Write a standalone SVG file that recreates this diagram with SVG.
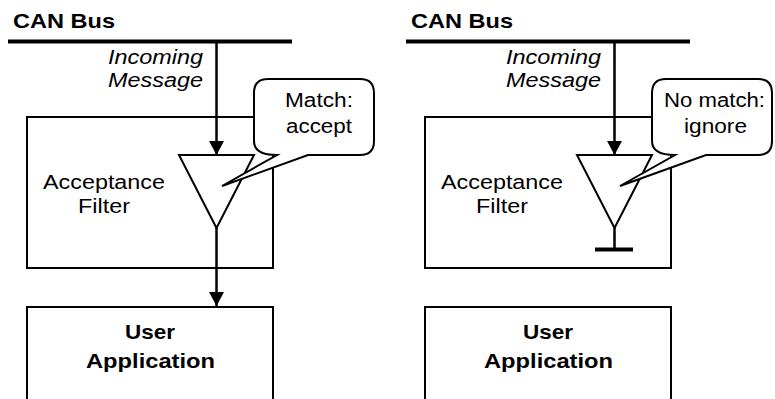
<svg xmlns="http://www.w3.org/2000/svg" width="775" height="399" viewBox="0 0 775 399">
<style>
  .box{fill:#fff;stroke:#000;stroke-width:2}
  .tri{fill:#fff;stroke:#000;stroke-width:2;stroke-linejoin:miter}
  .bus{stroke:#000;stroke-width:4;fill:none}
  .wire{stroke:#000;stroke-width:2.5;fill:none}
  .callout{fill:#fff;stroke:#000;stroke-width:2;stroke-linejoin:miter}
  text{font-family:"Liberation Sans",Arial,sans-serif;fill:#000}
  .title{font-size:21px;font-weight:bold}
  .it{font-size:20px;font-style:italic}
  .reg{font-size:20px}
  .bold{font-size:21px;font-weight:bold}
</style>
<defs>
  <marker id="arrow" markerUnits="userSpaceOnUse" markerWidth="16" markerHeight="16" refX="14" refY="7.5" orient="auto">
    <path d="M0,0 L14,7.5 L0,15 z" fill="#000"/>
  </marker>
</defs>

<!-- LEFT PANEL -->
<g id="left-canbus-label"><text class="title" x="13" y="28" textLength="102" lengthAdjust="spacingAndGlyphs">CAN Bus</text></g>
<g id="left-incoming-label">
  <text class="it" x="108" y="64" textLength="95" lengthAdjust="spacingAndGlyphs">Incoming</text>
  <text class="it" x="108" y="87" textLength="95" lengthAdjust="spacingAndGlyphs">Message</text>
</g>
<g id="left-filter-box">
  <rect class="box" x="27" y="117" width="246" height="151"/>
  <text class="reg" x="43" y="189" textLength="122" lengthAdjust="spacingAndGlyphs">Acceptance</text>
  <text class="reg" x="78" y="213" textLength="52" lengthAdjust="spacingAndGlyphs">Filter</text>
</g>
<g id="left-user-app">
  <rect class="box" x="27" y="307" width="246" height="120"/>
  <text class="bold" x="125" y="339" textLength="50" lengthAdjust="spacingAndGlyphs">User</text>
  <text class="bold" x="86" y="367.5" textLength="129" lengthAdjust="spacingAndGlyphs">Application</text>
</g>

<!-- RIGHT PANEL -->
<g id="right-canbus-label"><text class="title" x="411" y="28" textLength="102" lengthAdjust="spacingAndGlyphs">CAN Bus</text></g>
<g id="right-incoming-label">
  <text class="it" x="506" y="64" textLength="95" lengthAdjust="spacingAndGlyphs">Incoming</text>
  <text class="it" x="506" y="87" textLength="95" lengthAdjust="spacingAndGlyphs">Message</text>
</g>
<g id="right-filter-box">
  <rect class="box" x="425" y="117" width="246" height="151"/>
  <text class="reg" x="441" y="189" textLength="122" lengthAdjust="spacingAndGlyphs">Acceptance</text>
  <text class="reg" x="476" y="213" textLength="52" lengthAdjust="spacingAndGlyphs">Filter</text>
</g>
<g id="right-user-app">
  <rect class="box" x="425" y="307" width="246" height="120"/>
  <text class="bold" x="523" y="339" textLength="50" lengthAdjust="spacingAndGlyphs">User</text>
  <text class="bold" x="484" y="367.5" textLength="129" lengthAdjust="spacingAndGlyphs">Application</text>
</g>

<!-- CONNECTORS -->
<g id="connectors">
  <line class="bus" x1="8" y1="41.5" x2="292" y2="41.5"/>
  <line class="wire" x1="216.5" y1="42" x2="216.5" y2="155" marker-end="url(#arrow)"/>
  <line class="wire" x1="216.5" y1="228" x2="216.5" y2="306" marker-end="url(#arrow)"/>
  <line class="bus" x1="406" y1="41.5" x2="690" y2="41.5"/>
  <line class="wire" x1="614.5" y1="42" x2="614.5" y2="155" marker-end="url(#arrow)"/>
  <line class="wire" x1="614.5" y1="228" x2="614.5" y2="249"/>
  <line class="bus" x1="595" y1="249.5" x2="633" y2="249.5"/>
</g>

<g id="left-filter"><polygon class="tri" points="179,155 254,155 216.5,228"/></g>
<g id="right-filter"><polygon class="tri" points="577,155 652,155 614.5,228"/></g>

<g id="left-callout">
  <path class="callout" d="M268,79 H360 Q374,79 374,93 V141 Q374,155 360,155 H308 L222,186 L277,155 Q254,155 254,141 V93 Q254,79 268,79 Z"/>
  <text class="reg" x="285" y="107" textLength="68" lengthAdjust="spacingAndGlyphs">Match:</text>
  <text class="reg" x="286" y="133" textLength="66" lengthAdjust="spacingAndGlyphs">accept</text>
</g>
<g id="right-callout">
  <path class="callout" d="M666,79 H758 Q772,79 772,93 V141 Q772,155 758,155 H706 L620,186 L675,155 Q652,155 652,141 V93 Q652,79 666,79 Z"/>
  <text class="reg" x="664" y="107" textLength="101" lengthAdjust="spacingAndGlyphs">No match:</text>
  <text class="reg" x="684" y="133" textLength="63" lengthAdjust="spacingAndGlyphs">ignore</text>
</g>
</svg>
